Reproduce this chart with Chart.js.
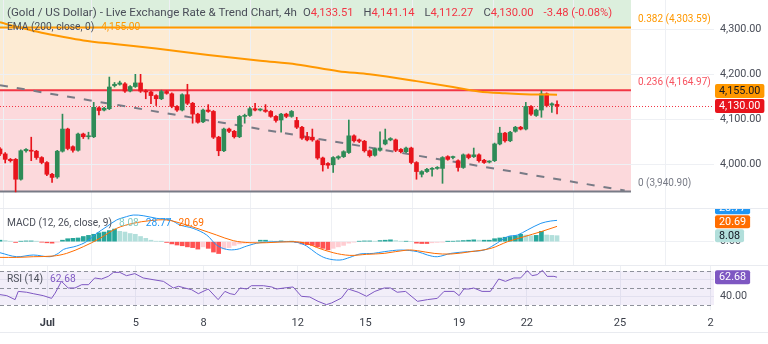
<!DOCTYPE html>
<html>
<head>
<meta charset="utf-8">
<script src="https://cdn.jsdelivr.net/npm/chart.js@4.4.1/dist/chart.umd.min.js"></script>
<style>
	body { margin: 0; background: #fff; font-family: Roboto, 'Noto Sans', sans-serif; }
	#wrap { position: relative; width: 768px; height: 344px; overflow: hidden; background: #fff; }
	canvas { position: absolute; left: 0; }
	.legend { position: absolute; left: 7px; font-size: 10.2px; line-height: 13px; color: #4a4e59; white-space: nowrap; }
	.legend b { font-weight: normal; margin-left: 7px; }
	.legend i { font-style: normal; margin-left: 10px; font-size: 11.2px; }
	.legend i:first-of-type { margin-left: 6px; }
	.sep { position: absolute; left: 0; width: 768px; height: 1px; background: #e9ebf0; }
</style>
</head>
<body>
<div id="wrap">
	<canvas id="priceCanvas" width="768" height="208" style="top:0"></canvas>
	<canvas id="macdCanvas"  width="768" height="57"  style="top:208px"></canvas>
	<canvas id="rsiCanvas"   width="768" height="79"  style="top:265px"></canvas>
	<div class="sep" style="top:208px"></div>
	<div class="sep" style="top:265px"></div>
	<div class="sep" style="top:332px"></div>
	<div class="legend" id="titleLine" style="top:6px; font-size:11.6px"></div>
	<div class="legend" id="emaLine"   style="top:20px"></div>
	<div class="legend" id="macdLine"  style="top:216px"></div>
	<div class="legend" id="rsiLine"   style="top:272px"></div>
</div>
<script>
// ─────────────────────────────────────────────
// داده‌ها (از روی تصویر خوانده شده) — شمع‌های ۴ ساعته
// ─────────────────────────────────────────────
const opens  = [4035,4024,4012,4012,3968,4031,4032,4030,4016,4005,3979,3973,4030,4079,4040,4032,4068,4062,4062,4126,
                4121,4124,4175,4178,4179,4163,4173,4181,4163,4161,4153,4146,4162,4157,4129,4121,4155,4136,4112,4095,
                4121,4118,4061,4031,4079,4074,4062,4107,4109,4124,4121,4121,4118,4107,4099,4112,4107,4098,4083,4062,
                4061,4053,4015,4003,4000,4015,4018,4027,4064,4055,4052,4031,4021,4032,4046,4055,4055,4034,4029,4037,
                4005,3979,3985,3990,3992,3992,4018,4016,4009,3994,4022,4018,4022,4010,4006,4009,4046,4070,4053,4074,
                4083,4079,4129,4109,4121,4157,4132,4133.51];
const highs  = [4038,4027,4014,4014,4033,4036,4061,4032,4018,4007,3981,4032,4112,4081,4042,4070,4070,4072,4138,4128,
                4127,4194,4182,4185,4182,4175,4200,4200,4166,4163,4155,4165,4164,4159,4131,4157,4178,4138,4114,4123,
                4133,4120,4063,4081,4081,4076,4109,4112,4127,4136,4124,4133,4120,4109,4114,4114,4120,4105,4085,4072,
                4079,4055,4017,4005,4018,4020,4031,4099,4066,4057,4054,4033,4037,4073,4079,4060,4057,4036,4039,4039,
                4007,3987,3992,3994,3996,4018,4020,4019,4011,4024,4024,4037,4024,4012,4009,4048,4083,4072,4074,4085,
                4085,4138,4131,4123,4164,4159,4137,4141.14];
const lows   = [4020,4004,4006,3940,3966,4028,4009,4012,4002,3976,3961,3970,4028,4033,4028,4030,4058,4057,4060,4110,
                4119,4122,4172,4176,4160,4161,4171,4160,4146,4135,4131,4144,4156,4126,4118,4119,4133,4092,4092,4093,
                4116,4058,4020,4029,4071,4059,4060,4092,4107,4119,4119,4116,4105,4094,4072,4104,4105,4080,4056,4053,
                4052,4012,3986,3992,3983,4012,4016,4025,4050,4049,4028,4017,4019,4030,4044,4053,4029,4026,4027,4002,
                3968,3973,3983,3975,3990,3959,4010,4013,3986,3992,4013,4016,4006,4003,4004,4007,4044,4050,4051,4072,
                4077,4077,4109,4107,4105,4128,4116,4112.27];
const closes = [4024,4012,4009,3968,4031,4034,4030,4016,4005,3979,3972,4030,4079,4036,4032,4068,4062,4063,4127,4120,
                4125,4172,4178,4181,4163,4173,4181,4163,4161,4153,4146,4162,4158,4129,4121,4155,4136,4112,4094,4121,
                4118,4061,4031,4079,4074,4062,4107,4109,4124,4121,4121.5,4118,4107,4098,4112,4107,4118,4083,4059,4055,
                4055,4015,4000,3999,4016,4018,4029,4064,4053,4052,4031,4020,4035,4037,4055,4058,4032,4029,4037,4005,
                3985,3985,3990,3992,3994,4016,4012,4016.5,3994,4022,4016,4022,4009,4005,4007,4046,4070,4053,4072,4083,
                4079,4129,4112,4121,4157,4131,4135,4130];
const change    = -3.48;
const changePct = -0.08;

// EMA 200 (نقاط خوانده شده)
const emaIdx = [0,4,8,12,16,22,30,40,50,57,65,71,80,87,92,97,102,107];
const emaVal = [4315,4303,4292,4283,4275,4267,4257,4243,4230,4222,4207,4200,4185,4172,4162,4158,4155.6,4155];

// خط روند نزولی
const trendIdx = [0, 120];
const trendVal = [4176, 3943];

// سطوح فیبوناچی
const fibRatios = ['0.382', '0.236', '0'];
const fibPrices = [4303.59, 4164.97, 3940.90];
const fibEnd    = 121.2;

// محور قیمت
const priceTicks = [4000, 4100, 4200, 4300];

// MACD
const histVals = [2,1.5,0.5,-1,0.5,1,1,0.3,-0.5,-1.5,-2,-0.5,2,4,4.5,5,7,8.5,10,12,
                  13,15,17,14,13,11,10,7,4.5,2,0.5,0.2,-1,-3,-4.5,-5.5,-7,-8,-10,-7,
                  -9,-14,-16,-10,-8,-5,-3,-2,-1,-0.5,2,2,1,0.5,1,0.5,0.5,-1,-3,-4,
                  -5,-7,-9,-11,-9,-7,-5,-2,-0.5,0.5,1,1,0.5,1.5,2,2.5,1.5,0.5,0.5,0,
                  -2,-2.5,-2.5,-1.5,-1,-0.5,0.3,0.5,1,1.5,2,2.5,2,2,2,4,5,6,7,8,
                  10,9,8,8.5,14,9,8.5,8.08];
const macdIdx = [0,3.2,6.4,9.6,11.2,12.2,14.7,16.6,18.6,20.5,22.4,24.3,25.6,27.5,30.1,32.7,34.6,37.1,39.7,41.6,
                 43.5,45.5,47.4,49.9,54.4,57,58.9,60.8,62.7,65.3,67.2,69.1,71.7,73.8,77,80.2,82.1,84,86.6,89.8,
                 93,94.9,97.5,99.4,101.3,103.9,105.8,107];
const macdVal = [-14.9,-20.3,-18,-20.3,-15.8,-10.4,-5.9,0,11.3,20.3,29.3,33.8,36,35.1,31.5,29.3,22.5,18,9,-4.5,
                 -10.4,-10.4,-5.9,-1.4,0,-0.9,-5.9,-15.8,-22.5,-24.8,-21.2,-16.7,-15.8,-13.5,-11.3,-13.5,-18,-20.3,-15.8,-13.5,
                 -11.3,-4.5,6.8,9,15.8,24.8,27.9,28.77];
const signalIdx = [0,3.2,6.4,10.2,12.8,16,19.2,22.4,25.6,28.8,32,35.2,38.4,41.6,44.8,48,51.2,56.3,58.9,60.8,
                   64,67.2,70.4,73.8,78.2,80.2,83.4,86.6,90.4,94.3,97.5,100.7,103.9,107];
const signalVal = [-21.2,-21.2,-20.3,-19.4,-15.8,-6.8,4.5,18,24.8,28.4,29.3,23.9,16.7,9,1.4,-1.4,-1.4,0,-2.3,-7.7,
                   -14.9,-18.5,-17.1,-15.8,-11.3,-12.2,-15.8,-16.7,-13.5,-9,0,6.8,13.5,20.69];

// RSI 14
const rsiIdx = [0,1.3,2.9,3.5,5.1,6.4,8.3,9.9,10.6,11.8,13.1,14.4,15.7,17,18.2,19.5,20.8,21.8,23,24.3,
                25.9,27.5,29.4,31.4,33.3,34.3,35.5,36.8,38.1,40,41.9,43.2,44.2,45.1,46.1,47.4,48.3,50.6,52.2,53.1,
                55.1,56.3,57.9,59.5,61.1,62.7,63.7,65.6,66.9,68.8,70.4,72,73.8,75,76.3,77.9,80.2,82.1,84,85.3,
                87.2,88.2,89.1,90.1,91,92.6,94.2,95.8,97.1,98.7,100,101.3,102.2,103.2,104.2,105.1,106.4,107];
const rsiVal = [42.2,41,36.3,46,45,43.3,41,37.8,44,57.8,50,50,53.9,53.9,61.8,60.6,63.7,68.4,68.4,64.5,
                66.9,61.8,59.8,57.8,50,52,50,48,43.3,48.8,36.3,46,43.3,42.2,50,48.8,52.7,52.7,51.2,48.8,
                50.4,51.2,40.2,39.4,34.3,30.4,32.4,38.2,48.8,45,40.2,46,50,50,45,46,34.3,36.3,37.8,46,
                46,41,48.8,48.8,50,46,46,60.6,57.8,61.8,61.8,70.4,64.5,65.7,70.8,63.7,63.7,62.68];
const rsiBands = [70, 50, 30];
const rsiTicks = [40, 60];

// برچسب‌های محور زمان
const xTickIdx = [9.1, 26.1, 39.1, 57.2, 70.2, 88.2, 101.2, 119.1, 136.5];
const xTickLbl = ['Jul', '5', '8', '12', '15', '19', '22', '25', '2'];

// ─────────────────────────────────────────────
// تنظیمات ظاهری
// ─────────────────────────────────────────────
const UP = '#2e8b57', DOWN = '#e8141c';
const X_MAX = 137.15;
const AXIS_W = 54;
const GRID = '#eef0f4';
const FONT = 'Roboto';

Chart.defaults.font.family = FONT;
Chart.defaults.font.size = 10;
Chart.defaults.color = '#4a4e59';
Chart.defaults.animation = false;
Chart.defaults.plugins.legend.display = false;
Chart.defaults.plugins.tooltip.enabled = false;

const fmt = v => v.toLocaleString('en-US', { minimumFractionDigits: 2, maximumFractionDigits: 2 });
const pts = (xs, ys) => xs.map((x, i) => ({ x, y: ys[i] }));
const last = a => a[a.length - 1];

// حذف فاصله‌ی خودکار اطراف محورها
const noPad = s => { s.paddingTop = s.paddingBottom = s.paddingLeft = s.paddingRight = 0; };

function xAxis(showLabels) {
	return {
		type: 'linear', min: 0, max: X_MAX, offset: false,
		grid: { color: GRID, drawTicks: false },
		border: { display: false },
		afterBuildTicks: s => { s.ticks = xTickIdx.map(v => ({ value: v })); },
		ticks: {
			display: showLabels, autoSkip: false, maxRotation: 0, padding: 7,
			color: '#3a3e48',
			font: c => ({ family: FONT, size: 11, weight: c.index === 0 ? 'bold' : 'normal' }),
			callback: (v, i) => xTickLbl[i]
		},
		afterFit: s => { s.height = showLabels ? 34 : 0; noPad(s); }
	};
}

function yAxis(min, max, ticks, fmtFn) {
	return {
		position: 'right', min, max,
		grid: { color: GRID, drawTicks: false },
		border: { display: false },
		afterBuildTicks: s => { s.ticks = ticks.map(v => ({ value: v })); },
		ticks: { padding: 6, color: '#4a4e59', font: { size: 10.8 }, callback: fmtFn },
		afterFit: s => { s.width = AXIS_W; noPad(s); }
	};
}

// برچسب‌های رنگی سمت راست (از پایین به بالا روی هم چیده می‌شوند)
function drawBadges(chart, items, h) {
	const { ctx, chartArea: a, scales: { y } } = chart;
	ctx.save();
	ctx.font = `10.8px ${FONT}`;
	ctx.textBaseline = 'middle';
	let prev = Infinity;
	items.forEach(it => {
		const cy = Math.min(y.getPixelForValue(it.value), prev - h - 1);
		const w = ctx.measureText(it.text).width + 8;
		ctx.fillStyle = it.bg;
		ctx.beginPath();
		ctx.roundRect(a.right + 1, cy - h / 2, w, h, 2);
		ctx.fill();
		ctx.fillStyle = it.fg;
		ctx.fillText(it.text, a.right + 5, cy + 0.5);
		prev = cy;
	});
	ctx.restore();
}

// ─────────────────────────────────────────────
// نمودار قیمت
// ─────────────────────────────────────────────
const fibPlugin = {
	id: 'fib',
	beforeDraw(chart) {
		const { ctx, chartArea: a, scales: { x, y } } = chart;
		const xr = x.getPixelForValue(fibEnd);
		const ys = fibPrices.map(p => y.getPixelForValue(p));
		ctx.save();
		ctx.fillStyle = '#dcefdd'; ctx.fillRect(a.left, a.top, xr - a.left, ys[0] - a.top);
		ctx.fillStyle = '#fdebd3'; ctx.fillRect(a.left, ys[0], xr - a.left, ys[1] - ys[0]);
		ctx.fillStyle = '#fcd9dc'; ctx.fillRect(a.left, ys[1], xr - a.left, ys[2] - ys[1]);
		ctx.restore();
	},
	beforeDatasetsDraw(chart) {
		const { ctx, chartArea: a, scales: { x, y } } = chart;
		const xr = x.getPixelForValue(fibEnd);
		const cols = ['#ff9800', '#f23645', '#787b86'];
		ctx.save();
		fibPrices.forEach((p, i) => {
			const yy = y.getPixelForValue(p);
			ctx.strokeStyle = cols[i]; ctx.lineWidth = 2;
			ctx.beginPath(); ctx.moveTo(a.left, yy); ctx.lineTo(xr, yy); ctx.stroke();
		});
		// خط قیمت جاری
		const yc = Math.round(y.getPixelForValue(last(closes))) + 0.5;
		ctx.strokeStyle = '#f23645'; ctx.lineWidth = 1; ctx.setLineDash([1, 2]);
		ctx.beginPath(); ctx.moveTo(a.left, yc); ctx.lineTo(a.right, yc); ctx.stroke();
		ctx.restore();
	},
	afterDraw(chart) {
		const { ctx, scales: { x, y } } = chart;
		const xr = x.getPixelForValue(fibEnd);
		const cols = ['#ff9800', '#f7525f', '#787b86'];
		ctx.save();
		ctx.font = `10px ${FONT}`;
		ctx.textBaseline = 'middle';
		fibPrices.forEach((p, i) => {
			ctx.fillStyle = cols[i];
			ctx.fillText(`${fibRatios[i]} (${fmt(p)})`, xr + 7, y.getPixelForValue(p) - 8);
		});
		ctx.restore();
		drawBadges(chart, [
			{ value: last(closes), text: fmt(last(closes)), bg: '#e8141c', fg: '#fff' },
			{ value: last(emaVal), text: fmt(last(emaVal)), bg: '#ff9800', fg: '#131722' }
		], 14);
	}
};

const candleIdx = closes.map((_, i) => i);
const candleCol = candleIdx.map(i => closes[i] >= opens[i] ? UP : DOWN);

new Chart(document.getElementById('priceCanvas'), {
	type: 'bar',
	data: {
		datasets: [
			{ type: 'line', data: pts(trendIdx, trendVal), borderColor: '#787b86', borderWidth: 2,
			  borderDash: [8, 9], pointRadius: 0, order: 3 },
			{ data: candleIdx.map(i => ({ x: i, y: [lows[i], highs[i]] })), backgroundColor: candleCol,
			  barThickness: 1, grouped: false, minBarLength: 1, order: 2 },
			{ data: candleIdx.map(i => ({ x: i, y: [opens[i], closes[i]] })), backgroundColor: candleCol,
			  barThickness: 4, grouped: false, minBarLength: 1, order: 1 },
			{ type: 'line', data: pts(emaIdx, emaVal), borderColor: '#ff9800', borderWidth: 2,
			  pointRadius: 0, cubicInterpolationMode: 'monotone', order: 0 }
		]
	},
	options: {
		responsive: false,
		layout: { padding: 0, autoPadding: false },
		scales: {
			x: xAxis(false),
			y: yAxis(3904.4, 4364.4, priceTicks, v => fmt(v))
		}
	},
	plugins: [fibPlugin]
});

// ─────────────────────────────────────────────
// نمودار MACD
// ─────────────────────────────────────────────
const histCol = histVals.map((v, i) => {
	const p = i ? histVals[i - 1] : v;
	if (v >= 0) return v >= p ? '#26a69a' : '#b2dfdb';
	return v <= p ? '#ff5252' : '#ffcdd2';
});

new Chart(document.getElementById('macdCanvas'), {
	type: 'bar',
	data: {
		datasets: [
			{ data: histVals.map((v, i) => ({ x: i, y: v })), backgroundColor: histCol,
			  barThickness: 4, grouped: false, order: 2 },
			{ type: 'line', data: pts(macdIdx, macdVal), borderColor: '#2196f3', borderWidth: 1,
			  pointRadius: 0, tension: 0.35, order: 1 },
			{ type: 'line', data: pts(signalIdx, signalVal), borderColor: '#ff6d00', borderWidth: 1,
			  pointRadius: 0, tension: 0.35, order: 0 }
		]
	},
	options: {
		responsive: false,
		layout: { padding: 0, autoPadding: false },
		scales: {
			x: xAxis(false),
			y: yAxis(-31.5, 45.5, [0], v => fmt(v))
		}
	},
	plugins: [{
		id: 'macdBadges',
		afterDraw(chart) {
			drawBadges(chart, [
				{ value: last(histVals),  text: fmt(last(histVals)),  bg: '#b2dfdb', fg: '#131722' },
				{ value: last(signalVal), text: fmt(last(signalVal)), bg: '#ff6d00', fg: '#fff' },
				{ value: last(macdVal),   text: fmt(last(macdVal)),   bg: '#2196f3', fg: '#fff' }
			], 13);
		}
	}]
});

// ─────────────────────────────────────────────
// نمودار RSI
// ─────────────────────────────────────────────
new Chart(document.getElementById('rsiCanvas'), {
	type: 'line',
	data: {
		datasets: [
			{ data: pts(rsiIdx, rsiVal), borderColor: '#7e57c2', borderWidth: 1, pointRadius: 0, tension: 0 }
		]
	},
	options: {
		responsive: false,
		layout: { padding: 0, autoPadding: false },
		scales: {
			x: xAxis(true),
			y: yAxis(24.1, 77.06, rsiTicks, v => fmt(v))
		}
	},
	plugins: [{
		id: 'rsiBands',
		beforeDatasetsDraw(chart) {
			const { ctx, chartArea: a, scales: { y } } = chart;
			const ys = rsiBands.map(v => y.getPixelForValue(v));
			ctx.save();
			ctx.fillStyle = 'rgba(126,87,194,0.1)';
			ctx.fillRect(a.left, ys[0], a.right - a.left, ys[2] - ys[0]);
			ctx.strokeStyle = '#8e919b'; ctx.lineWidth = 1; ctx.setLineDash([4, 3]);
			ys.forEach(yy => {
				const r = Math.round(yy) + 0.5;
				ctx.beginPath(); ctx.moveTo(a.left, r); ctx.lineTo(a.right, r); ctx.stroke();
			});
			ctx.restore();
		},
		afterDraw(chart) {
			drawBadges(chart, [{ value: last(rsiVal), text: fmt(last(rsiVal)), bg: '#7e57c2', fg: '#fff' }], 14);
		}
	}]
});

// ─────────────────────────────────────────────
// متن‌های راهنما
// ─────────────────────────────────────────────
const R = '#f23645';
const n = opens.length - 1;
const val = v => `<span style="color:${R}">${v}</span>`;
document.getElementById('titleLine').innerHTML =
	`(Gold / US Dollar) - Live Exchange Rate &amp; Trend Chart, 4h` +
	`<i>O${val(fmt(opens[n]))}</i><i>H${val(fmt(highs[n]))}</i>` +
	`<i>L${val(fmt(lows[n]))}</i><i>C${val(fmt(closes[n]))}</i>` +
	`<i>${val(`${fmt(change)} (${fmt(changePct)}%)`)}</i>`;
document.getElementById('emaLine').innerHTML =
	`EMA (200, close, 0)<b style="color:#ff9800">${fmt(last(emaVal))}</b>`;
document.getElementById('macdLine').innerHTML =
	`MACD (12, 26, close, 9)<b style="color:#80cbc4">${fmt(last(histVals))}</b>` +
	`<b style="color:#2196f3">${fmt(last(macdVal))}</b><b style="color:#ff6d00">${fmt(last(signalVal))}</b>`;
document.getElementById('rsiLine').innerHTML =
	`RSI (14)<b style="color:#7e57c2">${fmt(last(rsiVal))}</b>`;
</script>
</body>
</html>
